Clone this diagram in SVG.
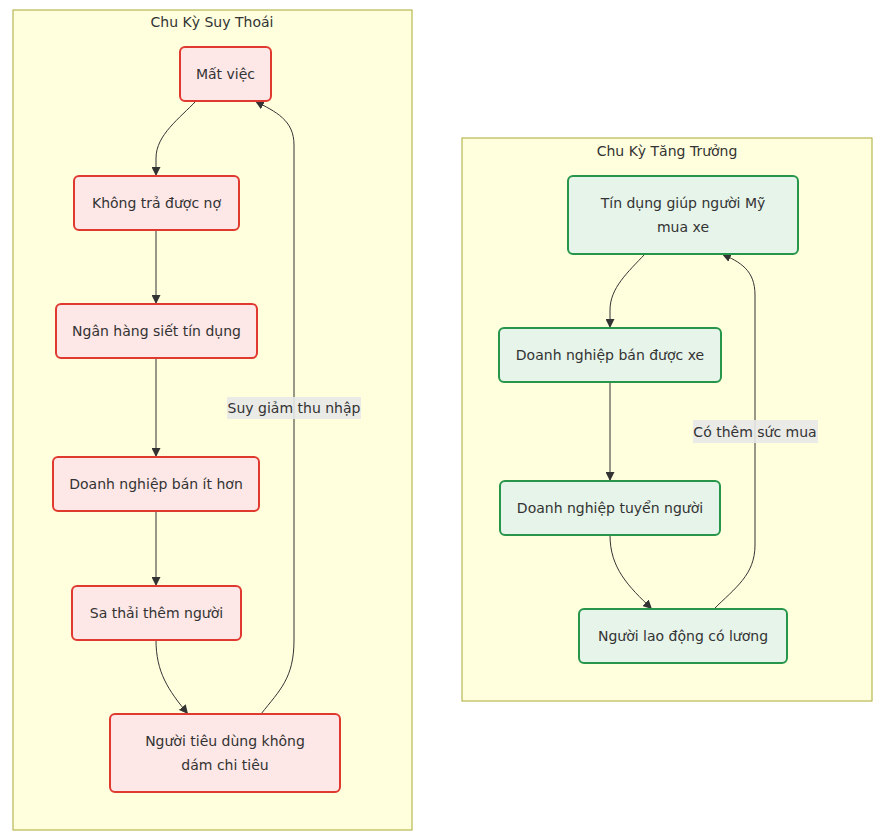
<svg xmlns="http://www.w3.org/2000/svg" width="882" height="837" viewBox="0 0 882 837">
<style>
text{font-family:"DejaVu Sans","Noto Sans",sans-serif;fill:#333;}
.ct{font-size:14px;text-anchor:middle;}
.nt{font-size:14px;text-anchor:middle;}
.cl{fill:#ffffde;stroke:#aaaa33;stroke-width:1;}
.red{fill:#fde7e7;stroke:#e03a30;stroke-width:2;}
.grn{fill:#e6f4ea;stroke:#27964a;stroke-width:2;}
.e{fill:none;stroke:#333;stroke-width:1;}
.lb{fill:#e8e8e8;opacity:0.9;}
</style>
<defs>
<marker id="ah" viewBox="0 0 10 10" refX="10" refY="5" markerUnits="userSpaceOnUse" markerWidth="9" markerHeight="9" orient="auto">
<path d="M0,0 L10,5 L0,10 z" fill="#333"/>
</marker>
</defs>
<rect width="882" height="837" fill="#ffffff"/>
<g id="cluster-suy-thoai">
<rect class="cl" x="13" y="10" width="399" height="820"/>
<text class="ct" x="212" y="27">Chu Kỳ Suy Thoái</text>
</g>
<g id="cluster-tang-truong">
<rect class="cl" x="462" y="138" width="410" height="563"/>
<text class="ct" x="667" y="156">Chu Kỳ Tăng Trưởng</text>
</g>
<g id="edges">
<path class="e" d="M196,101 C180,118 156,135 156,158 L156,176" marker-end="url(#ah)"/>
<path class="e" d="M156,230 L156,304" marker-end="url(#ah)"/>
<path class="e" d="M156,358 L156,457" marker-end="url(#ah)"/>
<path class="e" d="M156,511 L156,586" marker-end="url(#ah)"/>
<path class="e" d="M156,640 C156,672 168,690 188,714" marker-end="url(#ah)"/>
<path class="e" d="M261,714 C280,690 294,678 294,640 L294,145 C294,120 276,112 255,101" marker-end="url(#ah)"/>
<rect class="lb" x="227" y="397" width="134" height="22"/>
<text class="nt" x="294" y="413">Suy giảm thu nhập</text>
<path class="e" d="M645,254 C628,272 610,288 610,310 L610,328" marker-end="url(#ah)"/>
<path class="e" d="M610,382 L610,481" marker-end="url(#ah)"/>
<path class="e" d="M610,535 C610,568 628,586 652,609" marker-end="url(#ah)"/>
<path class="e" d="M714,609 C735,588 755,575 755,545 L755,295 C755,270 740,262 722,254" marker-end="url(#ah)"/>
<rect class="lb" x="693" y="420" width="125" height="23"/>
<text class="nt" x="755" y="437">Có thêm sức mua</text>
</g>
<g id="node-mat-viec">
<rect class="red" x="180" y="47" width="91" height="54" rx="5"/>
<text class="nt" x="225.5" y="79">Mất việc</text>
</g>
<g id="node-khong-tra-no">
<rect class="red" x="74" y="176" width="165" height="54" rx="5"/>
<text class="nt" x="156.5" y="208">Không trả được nợ</text>
</g>
<g id="node-ngan-hang">
<rect class="red" x="56" y="304" width="201" height="54" rx="5"/>
<text class="nt" x="156.5" y="336">Ngân hàng siết tín dụng</text>
</g>
<g id="node-dn-ban-it">
<rect class="red" x="53" y="457" width="206" height="54" rx="5"/>
<text class="nt" x="156" y="489">Doanh nghiệp bán ít hơn</text>
</g>
<g id="node-sa-thai">
<rect class="red" x="72" y="586" width="169" height="54" rx="5"/>
<text class="nt" x="156.5" y="618">Sa thải thêm người</text>
</g>
<g id="node-nguoi-tieu-dung">
<rect class="red" x="110" y="714" width="230" height="78" rx="5"/>
<text class="nt" x="225" y="746">Người tiêu dùng không</text>
<text class="nt" x="225" y="770">dám chi tiêu</text>
</g>
<g id="node-tin-dung">
<rect class="grn" x="568" y="176" width="230" height="78" rx="5"/>
<text class="nt" x="683" y="208">Tín dụng giúp người Mỹ</text>
<text class="nt" x="683" y="232">mua xe</text>
</g>
<g id="node-dn-ban-xe">
<rect class="grn" x="499" y="328" width="222" height="54" rx="5"/>
<text class="nt" x="610" y="360">Doanh nghiệp bán được xe</text>
</g>
<g id="node-dn-tuyen">
<rect class="grn" x="500" y="481" width="220" height="54" rx="5"/>
<text class="nt" x="610" y="513">Doanh nghiệp tuyển người</text>
</g>
<g id="node-nguoi-lao-dong">
<rect class="grn" x="579" y="609" width="208" height="54" rx="5"/>
<text class="nt" x="683" y="641">Người lao động có lương</text>
</g>
</svg>
